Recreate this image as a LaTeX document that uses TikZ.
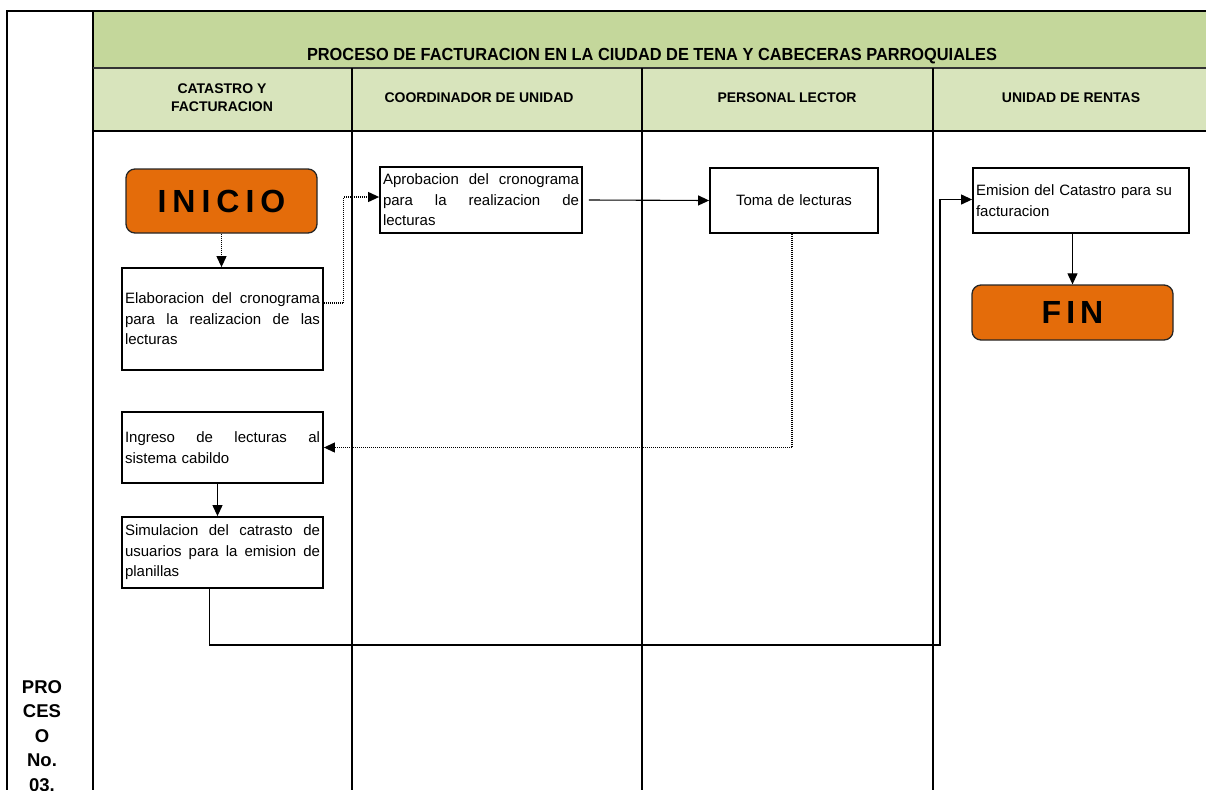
\documentclass[tikz,border=0pt]{standalone}
\usepackage{fontspec}
\setmainfont{Liberation Sans}
\usetikzlibrary{arrows.meta,calc}
\definecolor{titlegreen}{HTML}{C4D79B}
\definecolor{lanegreen}{HTML}{D8E4BC}
\definecolor{termorange}{HTML}{E46C0A}
% a justified line of box text, stretched to the full text width
\newcommand\jline[2][195pt]{\leavevmode\hbox to #1{\spaceskip=0.28em plus 1fil\relax #2}}

\begin{document}
\begin{tikzpicture}[x=1pt,y=-1pt,
  frameline/.style={line width=2.5pt,black},
  laneline/.style={line width=2.4pt,black},
  lanehead/.style={font=\bfseries\fontsize{14}{18}\selectfont,align=center},
  taskbox/.style={draw,line width=1.8pt,fill=white,rectangle,inner xsep=3pt,inner ysep=0pt,
    font=\fontsize{15}{20.5}\selectfont,align=left},
  terminal/.style={draw=black!85,line width=1.3pt,fill=termorange,rounded corners=9pt,
    font=\bfseries\fontsize{32}{32}\selectfont,inner sep=0pt},
  conn/.style={line width=1.1pt,black},
  dotconn/.style={line width=1.1pt,black,dash pattern=on 1pt off 1pt},
  tip/.style={-{Triangle[length=11pt,width=10pt]}}
]
\useasboundingbox (0,0) rectangle (1206,790);

% header bands
\fill[titlegreen] (93,11) rectangle (1206,68);
\fill[lanegreen] (93,68) rectangle (1206,131);

% frame and lanes
\draw[frameline] (1206,11) -- (7,11) -- (7,790);
\draw[frameline] (93,11) -- (93,790);
\draw[line width=1.8pt,black!80] (93,68) -- (1206,68);
\draw[frameline] (93,131) -- (1206,131);
\draw[laneline] (352,68) -- (352,790);
\draw[laneline] (642,68) -- (642,790);
\draw[laneline] (933,68) -- (933,790);

% titles
\node (title) at (652,56) {\resizebox{690pt}{\height}{\bfseries\fontsize{17.5}{17.5}\selectfont PROCESO DE FACTURACION EN LA CIUDAD DE TENA Y CABECERAS PARROQUIALES}};
\node[lanehead] (l1) at (222,98) {CATASTRO Y\\FACTURACION};
\node[lanehead] (l2) at (479,98) {COORDINADOR DE UNIDAD};
\node[lanehead] (l3) at (787,98) {PERSONAL LECTOR};
\node[lanehead] (l4) at (1071,98) {UNIDAD DE RENTAS};
\node[anchor=north,align=center,font=\bfseries\fontsize{18.5}{24.5}\selectfont] (proc) at (42,677) {PRO\\CES\\O\\No.\\03.};

% terminals
\node[terminal,minimum width=191pt,minimum height=64pt] (ini) at (221.5,201)
  {I\hspace{6pt}N\hspace{6pt}I\hspace{6pt}C\hspace{6pt}I\hspace{6pt}O};
\node[terminal,minimum width=201pt,minimum height=55pt] (fin) at (1072.5,312.5)
  {F\hspace{5pt}I\hspace{5pt}N};

% tasks
\node[taskbox,text width=195pt,minimum height=102pt] (ela) at (222.5,319)
  {\jline{Elaboracion del cronograma}\\\jline{para la realizacion de las}\\lecturas};
\node[taskbox,text width=196pt,minimum height=66pt] (apr) at (481,200)
  {\jline[196pt]{Aprobacion del cronograma}\\\jline[196pt]{para la realizacion de}\\lecturas};
\node[taskbox,text width=162pt,minimum height=65pt,align=center] (tom) at (794,200.5)
  {Toma de lecturas};
\node[taskbox,text width=210pt,minimum height=65pt] (emi) at (1081,200.5)
  {Emision del Catastro para su\\facturacion};
\node[taskbox,text width=195pt,minimum height=71pt] (ing) at (222.5,447.5)
  {\jline{Ingreso de lecturas al}\\sistema cabildo};
\node[taskbox,text width=195pt,minimum height=71pt] (sim) at (222.5,552.5)
  {\jline{Simulacion del catrasto de}\\\jline{usuarios para la emision de}\\planillas};

% connectors
\coordinate (turn) at (940,645);
\draw[dotconn,tip] (ini.south) -- (ini.south |- ela.north);
\draw[dotconn,tip] ([yshift=16pt]ela.east) -- ++(20,0) |- ([yshift=3pt]apr.west);
\draw[conn,tip] ([xshift=6pt]apr.east) -- (tom.west);
\draw[dotconn,tip] ([xshift=-2pt]tom.south) |- (ing.east);
\draw[conn,tip] ([xshift=-5pt]ing.south) -- ([xshift=-5pt]sim.north);
\draw[conn,tip] ([xshift=-13pt]sim.south) |- (turn) |- ([yshift=1pt]emi.west);
\draw[conn,tip] (emi.south -| fin.north) -- (fin.north);
\end{tikzpicture}
\end{document}
